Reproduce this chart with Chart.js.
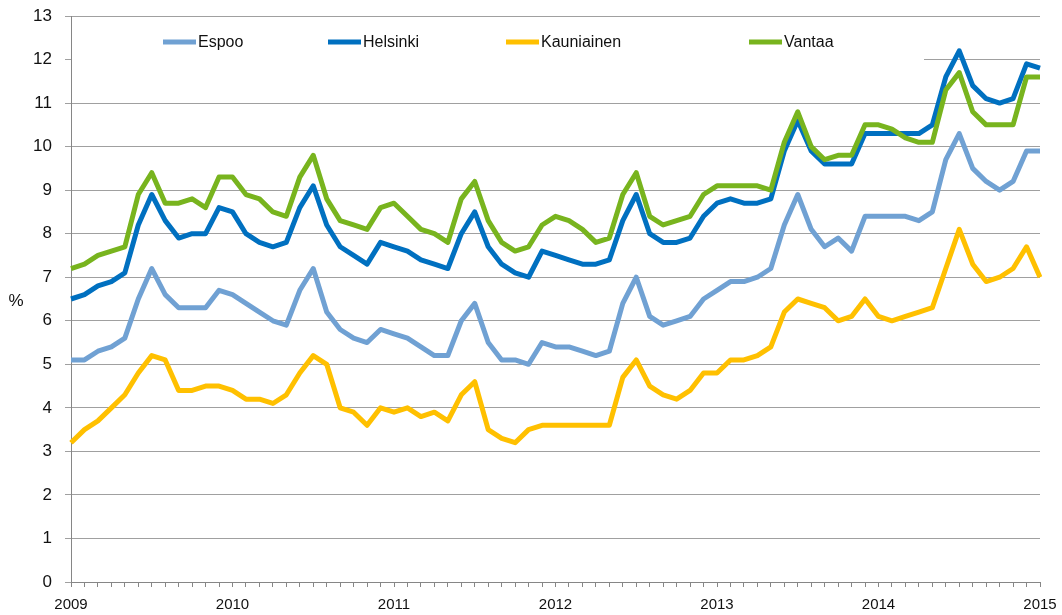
<!DOCTYPE html>
<html>
<head>
<meta charset="utf-8">
<script src="https://cdn.jsdelivr.net/npm/chart.js@4.4.1/dist/chart.umd.min.js"></script>
<style>
  html, body { margin: 0; padding: 0; background: #ffffff; }
  #wrap { width: 1062px; height: 615px; position: relative; }
</style>
</head>
<body>
<div id="wrap"><canvas id="c" width="1062" height="615"></canvas></div>
<script>
// Years shown on the x axis (monthly data from Jan 2009 to Jan 2015)
const years = ['2009', '2010', '2011', '2012', '2013', '2014', '2015'];
const yTicks = [0, 1, 2, 3, 4, 5, 6, 7, 8, 9, 10, 11, 12, 13];
const seriesNames = ['Espoo', 'Helsinki', 'Kauniainen', 'Vantaa'];

const espoo = [
  5.1, 5.1, 5.3, 5.4, 5.6, 6.5, 7.2, 6.6, 6.3, 6.3, 6.3, 6.7, 6.6,
  6.4, 6.2, 6.0, 5.9, 6.7, 7.2, 6.2, 5.8, 5.6, 5.5, 5.8, 5.7,
  5.6, 5.4, 5.2, 5.2, 6.0, 6.4, 5.5, 5.1, 5.1, 5.0, 5.5, 5.4,
  5.4, 5.3, 5.2, 5.3, 6.4, 7.0, 6.1, 5.9, 6.0, 6.1, 6.5, 6.7,
  6.9, 6.9, 7.0, 7.2, 8.2, 8.9, 8.1, 7.7, 7.9, 7.6, 8.4, 8.4,
  8.4, 8.4, 8.3, 8.5, 9.7, 10.3, 9.5, 9.2, 9.0, 9.2, 9.9, 9.9
];
const helsinki = [
  6.5, 6.6, 6.8, 6.9, 7.1, 8.2, 8.9, 8.3, 7.9, 8.0, 8.0, 8.6, 8.5,
  8.0, 7.8, 7.7, 7.8, 8.6, 9.1, 8.2, 7.7, 7.5, 7.3, 7.8, 7.7,
  7.6, 7.4, 7.3, 7.2, 8.0, 8.5, 7.7, 7.3, 7.1, 7.0, 7.6, 7.5,
  7.4, 7.3, 7.3, 7.4, 8.3, 8.9, 8.0, 7.8, 7.8, 7.9, 8.4, 8.7,
  8.8, 8.7, 8.7, 8.8, 9.9, 10.6, 9.9, 9.6, 9.6, 9.6, 10.3, 10.3,
  10.3, 10.3, 10.3, 10.5, 11.6, 12.2, 11.4, 11.1, 11.0, 11.1, 11.9, 11.8
];
const kauniainen = [
  3.2, 3.5, 3.7, 4.0, 4.3, 4.8, 5.2, 5.1, 4.4, 4.4, 4.5, 4.5, 4.4,
  4.2, 4.2, 4.1, 4.3, 4.8, 5.2, 5.0, 4.0, 3.9, 3.6, 4.0, 3.9,
  4.0, 3.8, 3.9, 3.7, 4.3, 4.6, 3.5, 3.3, 3.2, 3.5, 3.6, 3.6,
  3.6, 3.6, 3.6, 3.6, 4.7, 5.1, 4.5, 4.3, 4.2, 4.4, 4.8, 4.8,
  5.1, 5.1, 5.2, 5.4, 6.2, 6.5, 6.4, 6.3, 6.0, 6.1, 6.5, 6.1,
  6.0, 6.1, 6.2, 6.3, 7.2, 8.1, 7.3, 6.9, 7.0, 7.2, 7.7, 7.0
];
const vantaa = [
  7.2, 7.3, 7.5, 7.6, 7.7, 8.9, 9.4, 8.7, 8.7, 8.8, 8.6, 9.3, 9.3,
  8.9, 8.8, 8.5, 8.4, 9.3, 9.8, 8.8, 8.3, 8.2, 8.1, 8.6, 8.7,
  8.4, 8.1, 8.0, 7.8, 8.8, 9.2, 8.3, 7.8, 7.6, 7.7, 8.2, 8.4,
  8.3, 8.1, 7.8, 7.9, 8.9, 9.4, 8.4, 8.2, 8.3, 8.4, 8.9, 9.1,
  9.1, 9.1, 9.1, 9.0, 10.1, 10.8, 10.0, 9.7, 9.8, 9.8, 10.5, 10.5,
  10.4, 10.2, 10.1, 10.1, 11.3, 11.7, 10.8, 10.5, 10.5, 10.5, 11.6, 11.6
];

// month categories: Jan 2009 ... Jan 2015
const categories = [];
years.forEach((y, yi) => {
  const n = yi === years.length - 1 ? 1 : 12;
  for (let m = 1; m <= n; m++) categories.push(y + '-' + String(m).padStart(2, '0'));
});

const colors = ['#70a1d3', '#0070c0', '#ffc000', '#78b41e'];
const FONT = "'Liberation Sans', Arial, sans-serif";

const legendPlugin = {
  id: 'boxLegend',
  beforeDatasetsDraw(chart) {
    const ctx = chart.ctx;
    const a = chart.chartArea;
    ctx.save();
    ctx.fillStyle = '#ffffff';
    ctx.fillRect(a.left + 1, a.top + 2, 924 - a.left - 1, 52);
    ctx.restore();
  },
  afterDraw(chart) {
    const ctx = chart.ctx;
    const starts = [163, 328, 506, 749];
    const yMid = 42;
    ctx.save();
    ctx.font = '16px ' + FONT;
    ctx.textBaseline = 'middle';
    ctx.textAlign = 'left';
    chart.data.datasets.forEach((ds, i) => {
      const x0 = starts[i];
      ctx.strokeStyle = ds.borderColor;
      ctx.lineWidth = 5;
      ctx.lineCap = 'butt';
      ctx.beginPath();
      ctx.moveTo(x0, yMid);
      ctx.lineTo(x0 + 33, yMid);
      ctx.stroke();
      ctx.fillStyle = '#111';
      ctx.fillText(ds.label, x0 + 35, yMid + 1);
    });
    // y axis title
    ctx.font = '17px ' + FONT;
    ctx.textAlign = 'center';
    ctx.fillText('%', 16, 301);
    ctx.restore();
  }
};

const seriesData = [espoo, helsinki, kauniainen, vantaa];
const orders = [3, 2, 1, 0];

new Chart(document.getElementById('c'), {
  type: 'line',
  data: {
    labels: categories,
    datasets: seriesNames.map((name, i) => ({
      label: name,
      data: seriesData[i],
      borderColor: colors[i],
      backgroundColor: colors[i],
      borderWidth: 5,
      pointRadius: 0,
      tension: 0,
      borderJoinStyle: 'round',
      fill: false,
      order: orders[i]
    }))
  },
  options: {
    responsive: false,
    animation: false,
    devicePixelRatio: 1,
    layout: { padding: { left: 0, right: 22, top: 16, bottom: 0 } },
    plugins: { legend: { display: false }, tooltip: { enabled: false } },
    scales: {
      x: {
        type: 'category',
        offset: false,
        border: { display: true, color: '#868686', width: 1 },
        grid: { display: true, drawOnChartArea: false, drawTicks: true, tickLength: 5, color: '#868686' },
        ticks: {
          autoSkip: false,
          maxRotation: 0,
          minRotation: 0,
          padding: 9,
          color: '#111',
          font: { family: FONT, size: 15 },
          callback: function (val, idx) {
            const lab = categories[idx];
            return lab.endsWith('-01') ? lab.slice(0, 4) : '';
          }
        },
        afterFit(scale) {
          scale.height = 33;
          scale.paddingLeft = 0;
          scale.paddingRight = 0;
        }
      },
      y: {
        min: 0,
        max: 13,
        border: { display: true, color: '#868686', width: 1 },
        grid: { color: '#a0a0a0', tickLength: 6, drawTicks: true },
        afterBuildTicks(scale) { scale.ticks = yTicks.map(v => ({ value: v })); },
        ticks: {
          stepSize: 1,
          padding: 13,
          color: '#111',
          font: { family: FONT, size: 17 }
        },
        afterFit(scale) {
          scale.width = 71;
          scale.paddingTop = 0;
          scale.paddingBottom = 0;
        }
      }
    }
  },
  plugins: [legendPlugin]
});
</script>
</body>
</html>
